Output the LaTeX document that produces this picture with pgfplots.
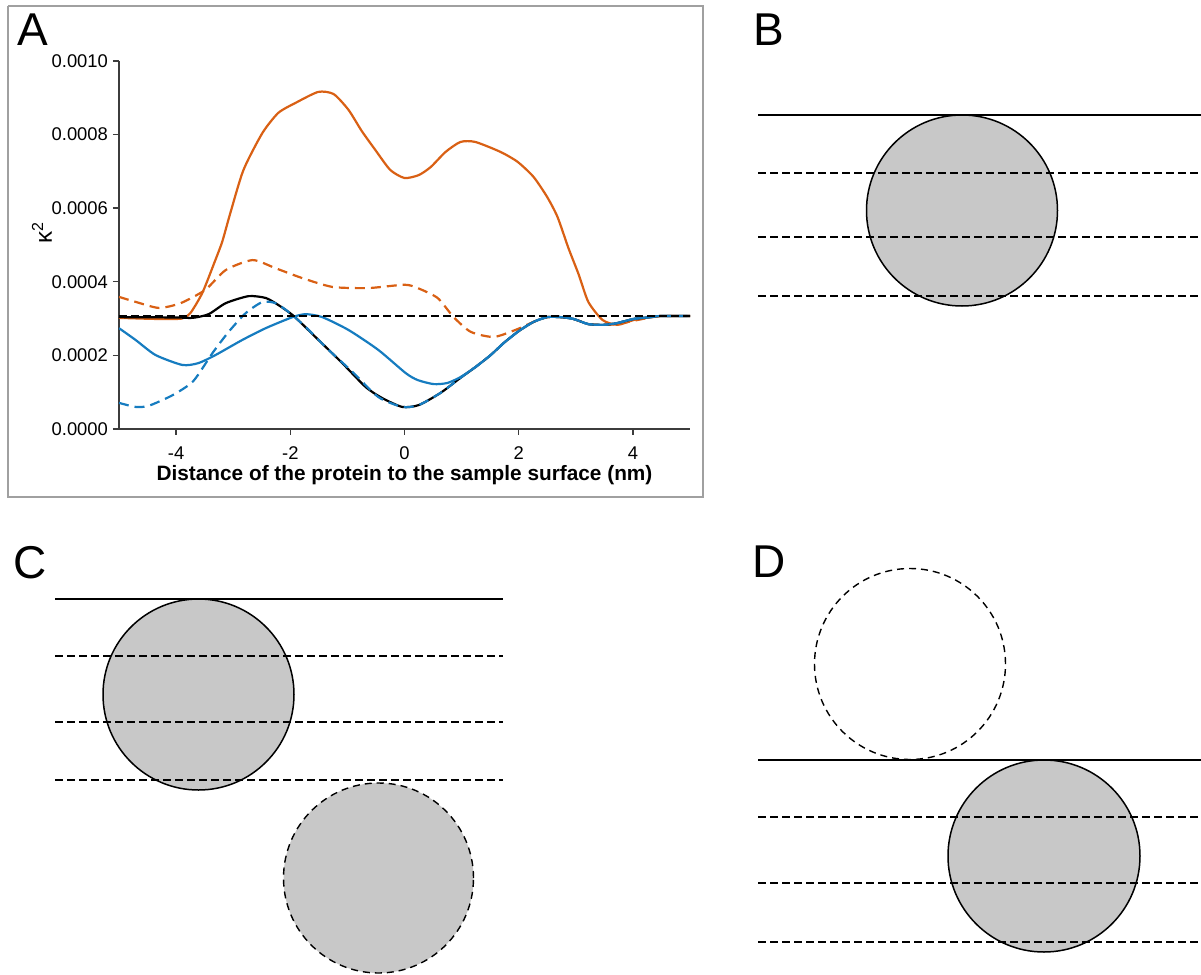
\documentclass[border=0pt]{standalone}
\usepackage{fontspec}
\setmainfont{Liberation Sans}
\usepackage{pgfplots}
\pgfplotsset{compat=1.18}
\definecolor{orng}{RGB}{217,96,20}
\definecolor{blu}{RGB}{22,124,192}
\definecolor{cfill}{RGB}{200,200,200}
\definecolor{frm}{RGB}{160,160,160}
\definecolor{axc}{RGB}{60,60,60}
\begin{document}
\begin{tikzpicture}
\useasboundingbox (0,0) rectangle (600.5pt,487.5pt);
% ---------- background axis in pixel units (panels B, C, D, frame, letters)
\begin{axis}[at={(0pt,0pt)}, anchor=south west, x=0.5pt, y=0.5pt, y dir=reverse,
  xmin=0, xmax=1201, ymin=0, ymax=975, hide axis, clip=false]
% frame of panel A
\addplot[frm, line width=1pt] coordinates {(8,6) (703,6) (703,497) (8,497) (8,6)};
% ---- B
\draw[fill=cfill, line width=0.75pt] (axis cs:962,210.5) circle[radius=47.75pt];
\addplot[black, line width=1pt] coordinates {(758,115) (1201,115)};
\addplot[black, line width=0.75pt, dash pattern=on 4pt off 2pt] coordinates {(758,173) (1201,173)};
\addplot[black, line width=0.75pt, dash pattern=on 4pt off 2pt] coordinates {(758,237) (1201,237)};
\addplot[black, line width=0.75pt, dash pattern=on 4pt off 2pt] coordinates {(758,296) (1201,296)};
% ---- C
\draw[fill=cfill, line width=0.75pt] (axis cs:198.5,694.5) circle[radius=47.75pt];
\draw[fill=cfill, line width=0.7pt, dash pattern=on 3.5pt off 2.5pt] (axis cs:378.5,878) circle[radius=47.5pt];
\addplot[black, line width=1pt] coordinates {(55,599) (503,599)};
\addplot[black, line width=0.75pt, dash pattern=on 4pt off 2pt] coordinates {(55,656) (503,656)};
\addplot[black, line width=0.75pt, dash pattern=on 4pt off 2pt] coordinates {(55,722) (503,722)};
\addplot[black, line width=0.75pt, dash pattern=on 4pt off 2pt] coordinates {(55,780) (503,780)};
% ---- D
\draw[line width=0.7pt, dash pattern=on 3.5pt off 2.5pt] (axis cs:910,664) circle[radius=47.75pt];
\draw[fill=cfill, line width=0.75pt] (axis cs:1044,856) circle[radius=48pt];
\addplot[black, line width=1pt] coordinates {(758,760) (1201,760)};
\addplot[black, line width=0.75pt, dash pattern=on 4pt off 2pt] coordinates {(758,817) (1201,817)};
\addplot[black, line width=0.75pt, dash pattern=on 4pt off 2pt] coordinates {(758,883) (1201,883)};
\addplot[black, line width=0.75pt, dash pattern=on 4pt off 2pt] coordinates {(758,942) (1201,942)};
% ---- letters
\node[anchor=base west, inner sep=0pt, font=\fontsize{23}{23}\selectfont] at (axis cs:17,45) {A};
\node[anchor=base west, inner sep=0pt, font=\fontsize{23}{23}\selectfont] at (axis cs:753,45) {B};
\node[anchor=base west, inner sep=0pt, font=\fontsize{23}{23}\selectfont] at (axis cs:13,578) {C};
\node[anchor=base west, inner sep=0pt, font=\fontsize{23}{23}\selectfont] at (axis cs:752,577) {D};
\end{axis}
% ---------- panel A
\begin{axis}[at={(59.5pt,273pt)}, anchor=south west, scale only axis,
  width=285.5pt, height=184pt,
  xmin=-5, xmax=5, ymin=0, ymax=0.001,
  axis lines=left, axis line style={-, line width=0.7pt, color=axc},
  tick align=outside, major tick length=3pt,
  tick style={line width=0.7pt, color=axc},
  xtick={-4,-2,0,2,4},
  ytick={0,0.0002,0.0004,0.0006,0.0008,0.001},
  scaled y ticks=false,
  yticklabel style={/pgf/number format/.cd, fixed, fixed zerofill, precision=4, /tikz/.cd, xshift=1pt},
  xticklabel style={yshift=-2.5pt},
  /pgf/number format/assume math mode=true,
  ticklabel style={font=\fontsize{9.2}{10}\selectfont},
  xlabel={Distance of the protein to the sample surface (nm)},
  xlabel style={font=\fontsize{10.4}{12}\selectfont\bfseries, at={(axis description cs:0.5,-0.125)}, anchor=center},
  ylabel={κ\textsuperscript{2}},
  ylabel style={font=\fontsize{12}{13}\selectfont, at={(axis description cs:-0.135,0.535)}, anchor=center},
  every axis plot/.append style={line width=1.1pt, line join=round, smooth, tension=0.4},
]
% orange solid
\addplot[orng] coordinates {
(-5.0,3.02e-4) (-4.6,3.00e-4) (-4.3,2.99e-4) (-3.9,3.00e-4) (-3.75,3.15e-4) (-3.54,3.70e-4)
(-3.31,4.60e-4) (-3.19,5.10e-4) (-3.05,5.87e-4) (-2.82,7.04e-4) (-2.49,8.04e-4) (-2.21,8.59e-4)
(-1.91,8.86e-4) (-1.51,9.16e-4) (-1.24,9.10e-4) (-0.98,8.67e-4) (-0.75,8.10e-4) (-0.51,7.58e-4)
(-0.25,7.04e-4) (0.0,6.82e-4) (0.25,6.90e-4) (0.46,7.12e-4) (0.72,7.53e-4) (0.98,7.80e-4)
(1.24,7.80e-4) (1.68,7.53e-4) (1.98,7.26e-4) (2.26,6.85e-4) (2.50,6.30e-4) (2.68,5.76e-4)
(2.87,4.92e-4) (3.05,4.20e-4) (3.22,3.45e-4) (3.47,2.96e-4) (3.73,2.83e-4) (4.01,2.96e-4)
(4.31,3.04e-4) (4.5,3.07e-4) (5.0,3.07e-4)};
% orange dashed
\addplot[orng, dash pattern=on 5pt off 3pt] coordinates {
(-5.0,3.59e-4) (-4.7,3.45e-4) (-4.3,3.29e-4) (-3.92,3.42e-4) (-3.49,3.78e-4) (-3.13,4.32e-4)
(-2.66,4.59e-4) (-2.26,4.37e-4) (-1.79,4.10e-4) (-1.26,3.86e-4) (-0.63,3.83e-4) (0.0,3.92e-4)
(0.23,3.83e-4) (0.58,3.56e-4) (0.86,3.04e-4) (1.16,2.64e-4) (1.56,2.50e-4) (1.94,2.69e-4)
(2.26,2.91e-4) (2.5,3.04e-4) (2.73,3.04e-4) (2.96,2.99e-4) (3.22,2.85e-4) (3.49,2.83e-4)
(3.73,2.85e-4) (4.01,2.94e-4) (4.31,3.03e-4) (4.5,3.07e-4) (5.0,3.07e-4)};
% black solid
\addplot[black] coordinates {
(-5.0,3.04e-4) (-4.0,3.03e-4) (-3.71,3.02e-4) (-3.43,3.12e-4) (-3.13,3.42e-4) (-2.73,3.61e-4)
(-2.43,3.56e-4) (-2.21,3.37e-4) (-1.94,3.07e-4) (-1.56,2.50e-4) (-1.09,1.79e-4) (-0.68,1.14e-4)
(-0.39,0.84e-4) (-0.04,0.60e-4) (0.25,0.65e-4) (0.63,0.98e-4) (0.98,1.39e-4) (1.24,1.68e-4)
(1.51,2.01e-4) (1.74,2.34e-4) (2.0,2.66e-4) (2.26,2.91e-4) (2.5,3.04e-4) (2.73,3.04e-4)
(2.96,2.99e-4) (3.22,2.85e-4) (3.49,2.83e-4) (3.73,2.88e-4) (4.01,2.99e-4) (4.31,3.04e-4)
(4.48,3.07e-4) (5.0,3.07e-4)};
% blue dashed
\addplot[blu, dash pattern=on 5pt off 3pt] coordinates {
(-5.0,0.71e-4) (-4.71,0.60e-4) (-4.48,0.63e-4) (-4.06,0.92e-4) (-3.70,1.30e-4) (-3.36,2.07e-4)
(-3.08,2.64e-4) (-2.78,3.15e-4) (-2.49,3.45e-4) (-2.26,3.42e-4) (-2.03,3.18e-4) (-1.73,2.77e-4)
(-1.33,2.15e-4) (-0.91,1.55e-4) (-0.46,0.87e-4) (-0.04,0.60e-4) (0.25,0.65e-4) (0.63,0.98e-4)
(0.98,1.39e-4) (1.24,1.68e-4) (1.51,2.01e-4) (1.74,2.34e-4) (2.0,2.66e-4) (2.26,2.91e-4)
(2.5,3.04e-4) (2.73,3.04e-4) (2.96,2.99e-4) (3.22,2.85e-4) (3.49,2.83e-4) (3.73,2.88e-4)
(4.01,2.99e-4) (4.31,3.04e-4) (4.48,3.07e-4) (5.0,3.07e-4)};
% blue solid
\addplot[blu] coordinates {
(-5.0,2.74e-4) (-4.71,2.42e-4) (-4.36,2.01e-4) (-3.89,1.74e-4) (-3.61,1.79e-4) (-3.31,2.01e-4)
(-2.84,2.42e-4) (-2.43,2.74e-4) (-1.96,3.04e-4) (-1.73,3.12e-4) (-1.44,3.04e-4) (-0.98,2.69e-4)
(-0.46,2.15e-4) (0.02,1.52e-4) (0.23,1.33e-4) (0.51,1.22e-4) (0.75,1.25e-4) (0.98,1.41e-4)
(1.24,1.68e-4) (1.51,2.01e-4) (1.74,2.34e-4) (2.0,2.66e-4) (2.26,2.91e-4) (2.5,3.04e-4)
(2.73,3.04e-4) (2.96,2.99e-4) (3.22,2.85e-4) (3.49,2.83e-4) (3.73,2.88e-4) (4.01,2.99e-4)
(4.31,3.04e-4) (4.48,3.07e-4) (5.0,3.07e-4)};
% black dashed reference
\addplot[black, dash pattern=on 4pt off 2pt, sharp plot] coordinates {(-5,3.07e-4) (5,3.07e-4)};
\end{axis}
\end{tikzpicture}
\end{document}
